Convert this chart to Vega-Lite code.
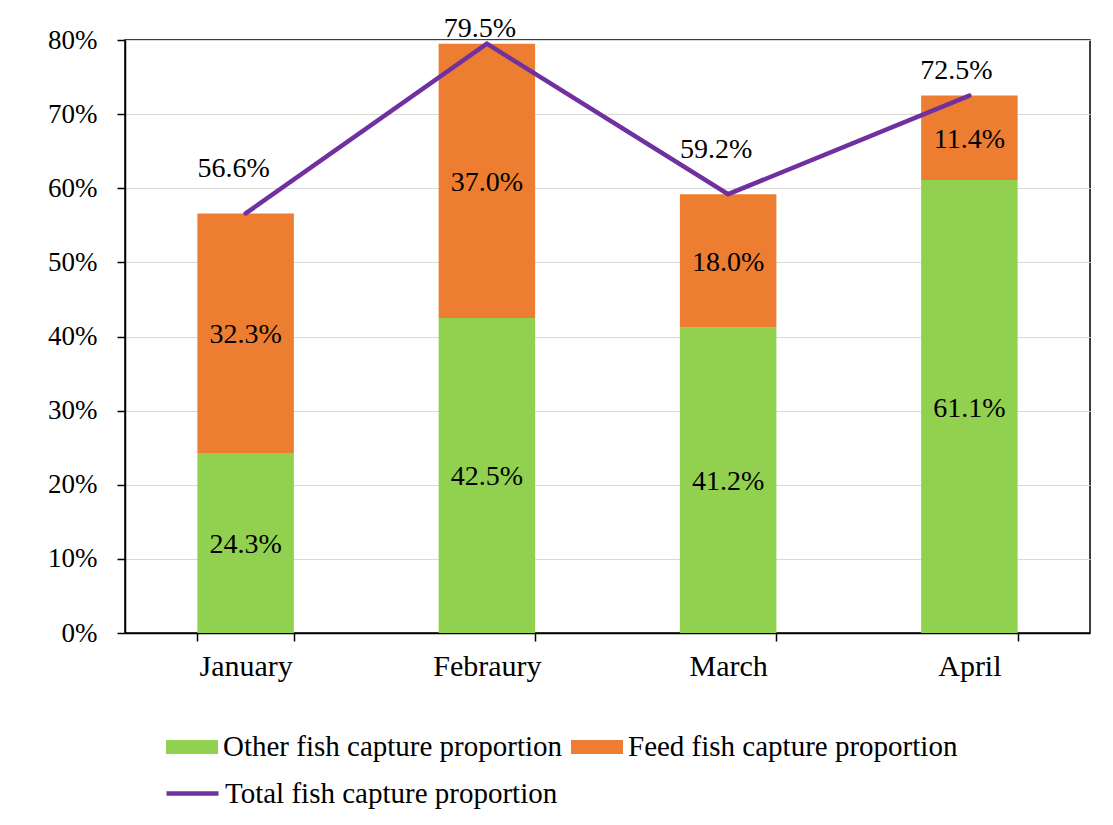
{
  "$schema": "https://vega.github.io/schema/vega-lite/v6.json",
  "width": 965,
  "height": 593,
  "autosize": {"type": "none"},
  "padding": {"left": 125, "top": 40, "right": 23, "bottom": 192},
  "background": "white",
  "config": {
    "font": "Liberation Serif",
    "view": {"stroke": "black", "strokeWidth": 1.5},
    "axis": {
      "labelFont": "Liberation Serif",
      "labelFontSize": 27,
      "labelColor": "black",
      "domainColor": "black",
      "domainWidth": 1.5,
      "tickColor": "black",
      "tickWidth": 1.5,
      "tickSize": 8,
      "title": null
    },
    "legend": {
      "labelFont": "Liberation Serif",
      "labelFontSize": 29,
      "labelColor": "black",
      "labelLimit": 600,
      "padding": 0,
      "title": null
    }
  },
  "datasets": {
    "parts": [
      {"month": "January", "series": "Other fish capture proportion", "value": 0.243},
      {"month": "January", "series": "Feed fish capture proportion", "value": 0.323},
      {"month": "Febraury", "series": "Other fish capture proportion", "value": 0.425},
      {"month": "Febraury", "series": "Feed fish capture proportion", "value": 0.370},
      {"month": "March", "series": "Other fish capture proportion", "value": 0.412},
      {"month": "March", "series": "Feed fish capture proportion", "value": 0.180},
      {"month": "April", "series": "Other fish capture proportion", "value": 0.611},
      {"month": "April", "series": "Feed fish capture proportion", "value": 0.114}
    ],
    "totals": [
      {"month": "January", "series": "Total fish capture proportion", "total": 0.566},
      {"month": "Febraury", "series": "Total fish capture proportion", "total": 0.795},
      {"month": "March", "series": "Total fish capture proportion", "total": 0.592},
      {"month": "April", "series": "Total fish capture proportion", "total": 0.725}
    ]
  },
  "encoding": {
    "x": {
      "field": "month",
      "type": "nominal",
      "sort": ["January", "Febraury", "March", "April"],
      "scale": {"paddingInner": 0.6, "paddingOuter": 0.3},
      "axis": {"labelAngle": 0, "tickBand": "extent", "labelPadding": 10, "labelFontSize": 30, "grid": false}
    }
  },
  "layer": [
    {
      "data": {"name": "parts"},
      "mark": {"type": "bar"},
      "encoding": {
        "y": {
          "field": "value",
          "type": "quantitative",
          "stack": "zero",
          "scale": {"domain": [0, 0.8]},
          "axis": {
            "values": [0, 0.1, 0.2, 0.3, 0.4, 0.5, 0.6, 0.7, 0.8],
            "format": ".0%",
            "gridColor": "#d9d9d9",
            "gridWidth": 1.2,
            "labelPadding": 20
          }
        },
        "fill": {
          "field": "series",
          "type": "nominal",
          "scale": {
            "domain": ["Other fish capture proportion", "Feed fish capture proportion"],
            "range": ["#92d050", "#ed7d31"]
          },
          "legend": {
            "orient": "none",
            "direction": "horizontal",
            "legendX": 41,
            "legendY": 681,
            "symbolType": "M-1,-0.27H1V0.27H-1Z",
            "symbolSize": 2704,
            "symbolStrokeWidth": 0,
            "symbolOpacity": 1,
            "labelOffset": 5,
            "columnPadding": 8
          }
        },
        "order": {"field": "series", "sort": "descending"}
      }
    },
    {
      "data": {"name": "parts"},
      "mark": {"type": "text", "fontSize": 28, "font": "Liberation Serif", "color": "black", "baseline": "middle", "dy": 2},
      "encoding": {
        "y": {"field": "value", "type": "quantitative", "stack": "zero", "bandPosition": 0.5},
        "text": {"field": "value", "type": "quantitative", "format": ".1%"},
        "detail": {"field": "series"},
        "order": {"field": "series", "sort": "descending"}
      }
    },
    {
      "data": {"name": "totals"},
      "mark": {"type": "line", "strokeWidth": 4.5, "strokeCap": "round", "strokeJoin": "miter"},
      "encoding": {
        "y": {"field": "total", "type": "quantitative"},
        "stroke": {
          "field": "series",
          "type": "nominal",
          "scale": {"domain": ["Total fish capture proportion"], "range": ["#7030a0"]},
          "legend": {
            "orient": "none",
            "legendX": 39,
            "legendY": 725,
            "symbolType": "stroke",
            "symbolSize": 2704,
            "symbolStrokeWidth": 4.5,
            "labelOffset": 4
          }
        }
      }
    },
    {
      "data": {"name": "totals"},
      "transform": [{"filter": "datum.month === 'January' || datum.month === 'March'"}],
      "mark": {"type": "text", "fontSize": 28, "font": "Liberation Serif", "color": "black", "baseline": "middle", "dx": -12, "dy": -44},
      "encoding": {
        "y": {"field": "total", "type": "quantitative"},
        "text": {"field": "total", "type": "quantitative", "format": ".1%"}
      }
    },
    {
      "data": {"name": "totals"},
      "transform": [{"filter": "datum.month === 'Febraury'"}],
      "mark": {"type": "text", "fontSize": 28, "font": "Liberation Serif", "color": "black", "baseline": "middle", "dx": -7, "dy": -15},
      "encoding": {
        "y": {"field": "total", "type": "quantitative"},
        "text": {"field": "total", "type": "quantitative", "format": ".1%"}
      }
    },
    {
      "data": {"name": "totals"},
      "transform": [{"filter": "datum.month === 'April'"}],
      "mark": {"type": "text", "fontSize": 28, "font": "Liberation Serif", "color": "black", "baseline": "middle", "dx": -13, "dy": -25},
      "encoding": {
        "y": {"field": "total", "type": "quantitative"},
        "text": {"field": "total", "type": "quantitative", "format": ".1%"}
      }
    }
  ]
}
